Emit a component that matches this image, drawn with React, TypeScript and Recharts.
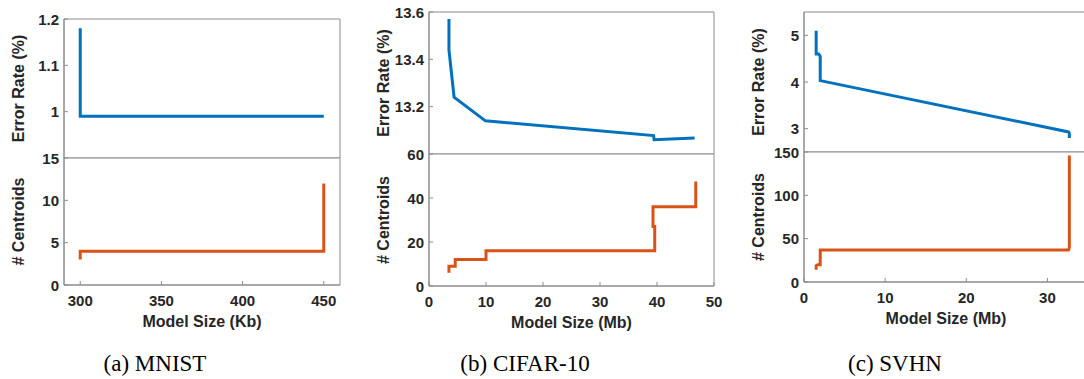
import { LineChart, Line, XAxis, YAxis, ReferenceArea } from "recharts";

// (a) MNIST
const mnistErrSize = [300, 300, 450];
const mnistErr = [1.18, 0.99, 0.99];
const mnistCentSize = [300, 300, 450, 450];
const mnistCent = [3, 4, 4, 12];
const mnistXTicks = [300, 350, 400, 450];
const mnistErrTicks = [1, 1.1, 1.2];
const mnistCentTicks = [0, 5, 10, 15];

// (b) CIFAR-10
const cifarErrSize = [3.5, 3.5, 4.4, 9.9, 39.4, 39.5, 46.6];
const cifarErr = [13.57, 13.44, 13.24, 13.14, 13.078, 13.06, 13.068];
const cifarCentSize = [3.5, 3.5, 4.6, 4.6, 10, 10, 39.6, 39.6, 39.3, 39.3, 46.8, 46.8];
const cifarCent = [6, 9, 9, 12, 12, 16, 16, 27, 27, 36, 36, 47.5];
const cifarXTicks = [0, 10, 20, 30, 40, 50];
const cifarErrTicks = [13.2, 13.4, 13.6];
const cifarCentTicks = [0, 20, 40, 60];

// (c) SVHN
const svhnErrSize = [1.5, 1.5, 1.8, 2.0, 2.0, 32.6, 32.7, 32.7];
const svhnErr = [5.1, 4.6, 4.6, 4.55, 4.03, 2.93, 2.9, 2.8];
const svhnCentSize = [1.5, 1.5, 1.7, 2.0, 2.0, 32.6, 32.7, 32.7];
const svhnCent = [14, 19, 20, 20, 37, 37, 40, 146];
const svhnXTicks = [0, 10, 20, 30];
const svhnErrTicks = [3, 4, 5];
const svhnCentTicks = [0, 50, 100, 150];

const BLUE = "#0072BD";
const ORANGE = "#D95319";
const AXIS = "#8c8c8c";
const TEXT = "#262626";
const FONT = "'Liberation Sans', Arial, Helvetica, sans-serif";
const TL = 4; // inward tick length
const H = 379;
const PAD_TOP = 14; // room above the lower plot for its top tick label

const zip = (xs: number[], ys: number[]) => xs.map((x, i) => ({ x, y: ys[i] }));

type Side = "bottom" | "top" | "left" | "right";

function tickRenderer(side: Side, showLabel: boolean) {
  return (props: any) => {
    const { x, y, payload } = props;
    let x2 = x;
    let y2 = y;
    let label = null;
    const txt = {
      fill: TEXT,
      fontFamily: FONT,
      fontSize: 15,
      fontWeight: 700,
      dominantBaseline: "central" as const,
    };
    if (side === "bottom") {
      y2 = y - TL;
      if (showLabel)
        label = (
          <text x={x} y={y + 15.5} textAnchor="middle" {...txt}>
            {String(payload.value)}
          </text>
        );
    } else if (side === "top") {
      y2 = y + TL;
    } else if (side === "left") {
      x2 = x + TL;
      if (showLabel)
        label = (
          <text x={x - 5} y={y} textAnchor="end" {...txt}>
            {String(payload.value)}
          </text>
        );
    } else {
      x2 = x - TL;
    }
    return (
      <g>
        <line x1={x} y1={y} x2={x2} y2={y2} stroke={AXIS} strokeWidth={1} />
        {label}
      </g>
    );
  };
}

interface SubplotProps {
  x0: number;
  left: number;
  right: number;
  top: number;
  bottom: number;
  isTop: boolean;
  data: { x: number; y: number }[];
  color: string;
  xDomain: [number, number];
  xTicks: number[];
  yDomain: [number, number];
  yTicks: number[];
  yTitle: string;
  xTitle?: string;
}

function Subplot(p: SubplotProps) {
  const chartTop = p.isTop ? 0 : p.top - PAD_TOP;
  const height = p.isTop ? p.bottom : H - chartTop;
  const padL = p.left - p.x0;
  const plotW = p.right - p.left;
  const plotH = p.bottom - p.top;
  const width = padL + plotW + 20;
  const plotTop = p.isTop ? p.top : PAD_TOP;
  const titleStyle = {
    fill: TEXT,
    fontFamily: FONT,
    fontSize: 16,
    fontWeight: 700,
  };
  const yTitleX = padL - 46;
  const yTitleY = plotTop + plotH / 2;

  return (
    <div style={{ position: "absolute", left: p.x0, top: chartTop, width, height }}>
      <LineChart
        width={width}
        height={height}
        data={p.data}
        margin={{ top: plotTop, right: 20, bottom: 0, left: 0 }}
      >
        <XAxis
          xAxisId="b"
          dataKey="x"
          type="number"
          domain={p.xDomain}
          ticks={p.xTicks}
          interval={0}
          allowDataOverflow
          height={p.isTop ? 0 : H - p.bottom}
          stroke={AXIS}
          axisLine={{ stroke: AXIS }}
          tickLine={false}
          tickSize={0}
          tickMargin={0}
          tick={tickRenderer("bottom", !p.isTop)}
          label={
            p.xTitle
              ? () => (
                  <text
                    x={padL + plotW / 2}
                    y={plotTop + plotH + 36}
                    textAnchor="middle"
                    dominantBaseline="central"
                    {...titleStyle}
                  >
                    {p.xTitle}
                  </text>
                )
              : undefined
          }
        />
        <XAxis
          xAxisId="t"
          orientation="top"
          type="number"
          domain={p.xDomain}
          ticks={p.xTicks}
          interval={0}
          allowDataOverflow
          height={0}
          stroke={AXIS}
          axisLine={{ stroke: AXIS }}
          tickLine={false}
          tickSize={0}
          tickMargin={0}
          tick={tickRenderer("top", false)}
        />
        <YAxis
          yAxisId="l"
          type="number"
          domain={p.yDomain}
          ticks={p.yTicks}
          interval={0}
          allowDataOverflow
          width={padL}
          stroke={AXIS}
          axisLine={{ stroke: AXIS }}
          tickLine={false}
          tickSize={0}
          tickMargin={0}
          tick={tickRenderer("left", true)}
          label={() => (
            <text
              x={yTitleX}
              y={yTitleY}
              transform={`rotate(-90 ${yTitleX} ${yTitleY})`}
              textAnchor="middle"
              dominantBaseline="central"
              {...titleStyle}
            >
              {p.yTitle}
            </text>
          )}
        />
        <YAxis
          yAxisId="r"
          orientation="right"
          type="number"
          domain={p.yDomain}
          ticks={p.yTicks}
          interval={0}
          allowDataOverflow
          width={0}
          stroke={AXIS}
          axisLine={{ stroke: AXIS }}
          tickLine={false}
          tickSize={0}
          tickMargin={0}
          tick={tickRenderer("right", false)}
        />
        <ReferenceArea
          xAxisId="b"
          yAxisId="l"
          x1={p.xDomain[0]}
          x2={p.xDomain[1]}
          y1={p.yDomain[0]}
          y2={p.yDomain[1]}
          fill="none"
          fillOpacity={0}
          stroke={AXIS}
          strokeWidth={1}
          ifOverflow="visible"
        />
        <Line
          xAxisId="b"
          yAxisId="l"
          type="linear"
          dataKey="y"
          stroke={p.color}
          strokeWidth={3}
          dot={false}
          activeDot={false}
          isAnimationActive={false}
        />
      </LineChart>
    </div>
  );
}

interface PanelProps {
  x0: number;
  left: number;
  right: number;
  top: number;
  mid: number;
  bottom: number;
  xDomain: [number, number];
  xTicks: number[];
  errDomain: [number, number];
  errTicks: number[];
  centDomain: [number, number];
  centTicks: number[];
  err: { x: number; y: number }[];
  cent: { x: number; y: number }[];
  xTitle: string;
  caption: string;
  captionX: number;
}

function Panel(p: PanelProps) {
  return (
    <>
      <Subplot
        x0={p.x0}
        left={p.left}
        right={p.right}
        top={p.top}
        bottom={p.mid}
        isTop
        data={p.err}
        color={BLUE}
        xDomain={p.xDomain}
        xTicks={p.xTicks}
        yDomain={p.errDomain}
        yTicks={p.errTicks}
        yTitle="Error Rate (%)"
      />
      <Subplot
        x0={p.x0}
        left={p.left}
        right={p.right}
        top={p.mid}
        bottom={p.bottom}
        isTop={false}
        data={p.cent}
        color={ORANGE}
        xDomain={p.xDomain}
        xTicks={p.xTicks}
        yDomain={p.centDomain}
        yTicks={p.centTicks}
        yTitle="# Centroids"
        xTitle={p.xTitle}
      />
      <div
        style={{
          position: "absolute",
          left: p.captionX,
          top: 352,
          transform: "translateX(-50%)",
          whiteSpace: "nowrap",
          fontFamily: "'Liberation Serif', 'Times New Roman', serif",
          fontSize: 23,
          lineHeight: "24px",
          color: "#000",
        }}
      >
        {p.caption}
      </div>
    </>
  );
}

export default function App() {
  return (
    <div
      style={{
        position: "absolute",
        left: 0,
        top: 0,
        width: 1084,
        height: H,
        overflow: "hidden",
        background: "#fff",
      }}
    >
      <Panel
        x0={0}
        left={64}
        right={340}
        top={19}
        mid={158}
        bottom={285}
        xDomain={[290, 460]}
        xTicks={mnistXTicks}
        errDomain={[0.9, 1.2]}
        errTicks={mnistErrTicks}
        centDomain={[0, 15]}
        centTicks={mnistCentTicks}
        err={zip(mnistErrSize, mnistErr)}
        cent={zip(mnistCentSize, mnistCent)}
        xTitle="Model Size (Kb)"
        caption="(a) MNIST"
        captionX={155}
      />
      <Panel
        x0={360}
        left={429}
        right={714}
        top={12}
        mid={154}
        bottom={286}
        xDomain={[0, 50]}
        xTicks={cifarXTicks}
        errDomain={[13, 13.6]}
        errTicks={cifarErrTicks}
        centDomain={[0, 60]}
        centTicks={cifarCentTicks}
        err={zip(cifarErrSize, cifarErr)}
        cent={zip(cifarCentSize, cifarCent)}
        xTitle="Model Size (Mb)"
        caption="(b) CIFAR-10"
        captionX={525}
      />
      <Panel
        x0={720}
        left={804}
        right={1088}
        top={12}
        mid={152}
        bottom={282}
        xDomain={[0, 35]}
        xTicks={svhnXTicks}
        errDomain={[2.5, 5.5]}
        errTicks={svhnErrTicks}
        centDomain={[0, 150]}
        centTicks={svhnCentTicks}
        err={zip(svhnErrSize, svhnErr)}
        cent={zip(svhnCentSize, svhnCent)}
        xTitle="Model Size (Mb)"
        caption="(c) SVHN"
        captionX={895}
      />
    </div>
  );
}
